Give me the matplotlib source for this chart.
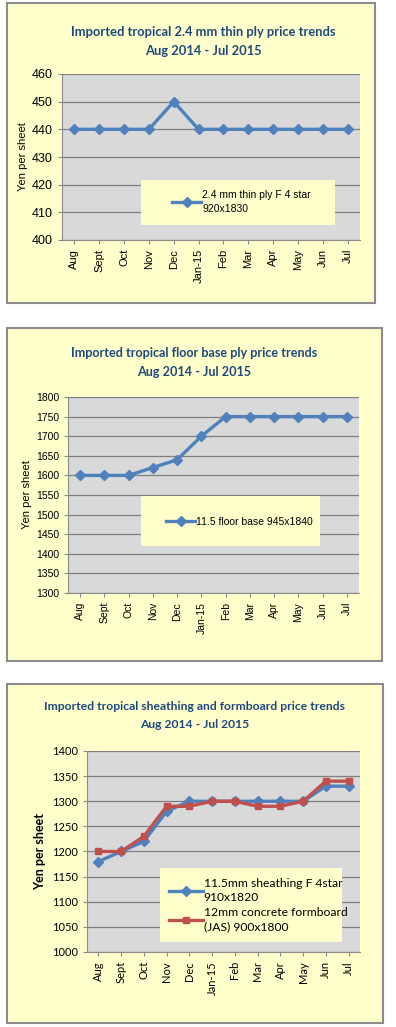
import matplotlib.pyplot as plt
from matplotlib.patches import Rectangle

months = ['Aug', 'Sept', 'Oct', 'Nov', 'Dec', 'Jan-15', 'Feb', 'Mar', 'Apr', 'May', 'Jun', 'Jul']

thin_ply = [440, 440, 440, 440, 450, 440, 440, 440, 440, 440, 440, 440]
floor_base = [1600, 1600, 1600, 1620, 1640, 1700, 1750, 1750, 1750, 1750, 1750, 1750]
sheathing = [1180, 1200, 1220, 1280, 1300, 1300, 1300, 1300, 1300, 1300, 1330, 1330]
formboard = [1200, 1200, 1230, 1290, 1290, 1300, 1300, 1290, 1290, 1300, 1340, 1340]

BG = '#FFFFCC'
PLOT_BG = '#D9D9D9'
BLUE = '#4F81BD'
RED = '#C0504D'
TITLE_C = '#1F497D'

W, H = 396, 1027
fig = plt.figure(figsize=(W / 100, H / 100), dpi=100)


def fx(x):
    return x / W


def fy(y):
    return 1 - y / H


def frame(x0, y0, x1, y1):
    fig.add_artist(Rectangle((fx(x0), fy(y1)), fx(x1 - x0), (y1 - y0) / H,
                             transform=fig.transFigure, facecolor=BG,
                             edgecolor='#8C8C8C', linewidth=1.5, zorder=0))


def make_axes(x0, y0, x1, y1):
    ax = fig.add_axes([fx(x0), fy(y1), fx(x1 - x0), (y1 - y0) / H])
    ax.set_facecolor(PLOT_BG)
    ax.set_axisbelow(True)
    ax.grid(axis='y', color='#7F7F7F', linewidth=0.9)
    for s in ['top', 'right']:
        ax.spines[s].set_visible(False)
    for s in ['left', 'bottom']:
        ax.spines[s].set_color('#8C8C8C')
    ax.set_xlim(-0.5, len(months) - 0.5)
    ax.set_xticks(range(len(months)))
    ax.tick_params(axis='both', length=3, color='#8C8C8C')
    return ax


def legend_box(ax, x0, y0, x1, y1):
    ax.add_patch(Rectangle((fx(x0), fy(y1)), fx(x1 - x0), (y1 - y0) / H,
                           transform=fig.transFigure, facecolor=BG,
                           edgecolor='none', zorder=4, clip_on=False))


def titles(x, y, first, size=9.3):
    fig.text(fx(x), fy(y), first, ha='center', va='center', fontsize=size,
             fontweight='bold', color=TITLE_C, family='Lato')
    fig.text(fx(x), fy(y + 19), 'Aug 2014 - Jul 2015', ha='center', va='center',
             fontsize=size, fontweight='bold', color=TITLE_C, family='Lato')


# ---- panel 1: thin ply
frame(7, 3, 375, 303)
titles(203, 32, 'Imported tropical 2.4 mm thin ply price trends')
ax1 = make_axes(62, 74, 360, 240)
ax1.plot(range(len(months)), thin_ply, color=BLUE, linewidth=2.4, marker='D', markersize=5.5,
         label='2.4 mm thin ply F 4 star\n920x1830', zorder=3)
ax1.set_ylim(400, 460)
ax1.set_yticks(range(400, 461, 10))
ax1.set_xticklabels(months, rotation=90, fontsize=8, family='Liberation Sans')
for t in ax1.get_yticklabels():
    t.set_fontsize(9)
    t.set_family('Liberation Sans')
ax1.set_ylabel('Yen per sheet', fontsize=8, family='Liberation Sans', labelpad=3)
legend_box(ax1, 141, 180, 335, 225)
leg = ax1.legend(loc='center left', bbox_to_anchor=(fx(168), fy(202)), bbox_transform=fig.transFigure,
                 frameon=False, prop={'family': 'Liberation Sans', 'size': 7.5}, handlelength=2.8,
                 handletextpad=0.1, borderaxespad=0)
for t in leg.get_texts():
    t.set_linespacing(1.6)
leg.set_zorder(5)

# ---- panel 2: floor base
frame(7, 328, 382, 661)
titles(194, 353, 'Imported tropical floor base ply price trends', 9.1)
ax2 = make_axes(68, 397, 359, 593)
ax2.plot(range(len(months)), floor_base, color=BLUE, linewidth=2.4, marker='D', markersize=5.5,
         label='11.5 floor base 945x1840', zorder=3)
ax2.set_ylim(1300, 1800)
ax2.set_yticks(range(1300, 1801, 50))
ax2.set_xticklabels(months, rotation=90, fontsize=7.5, family='Liberation Sans')
for t in ax2.get_yticklabels():
    t.set_fontsize(7.5)
    t.set_family('Liberation Sans')
ax2.set_ylabel('Yen per sheet', fontsize=8, family='Liberation Sans', labelpad=3)
legend_box(ax2, 141, 496, 320, 546)
leg = ax2.legend(loc='center left', bbox_to_anchor=(fx(162), fy(522)), bbox_transform=fig.transFigure,
                 frameon=False, prop={'family': 'Liberation Sans', 'size': 7.5}, handlelength=2.8,
                 handletextpad=0.1, borderaxespad=0)
leg.set_zorder(5)

# ---- panel 3: sheathing and formboard
frame(7, 684, 383, 1023)
fig.text(fx(195), fy(707), 'Imported tropical sheathing and formboard price trends',
         ha='center', va='center', fontsize=8.7, fontweight='bold', color=TITLE_C, family='Lato')
fig.text(fx(195), fy(724), 'Aug 2014 - Jul 2015',
         ha='center', va='center', fontsize=8.7, fontweight='bold', color=TITLE_C, family='Lato')
ax3 = make_axes(87, 751, 360, 952)
ax3.plot(range(len(months)), sheathing, color=BLUE, linewidth=2.4, marker='D', markersize=5.5,
         label='11.5mm sheathing F 4star\n910x1820', zorder=3)
ax3.plot(range(len(months)), formboard, color=RED, linewidth=2.4, marker='s', markersize=5,
         label='12mm concrete formboard\n(JAS) 900x1800', zorder=3)
ax3.set_ylim(1000, 1400)
ax3.set_yticks(range(1000, 1401, 50))
ax3.set_xticklabels(months, rotation=90, fontsize=8, family='Lato')
for t in ax3.get_yticklabels():
    t.set_fontsize(8)
    t.set_family('Lato')
ax3.set_ylabel('Yen per sheet', fontsize=9, fontweight='bold', family='Lato', labelpad=4)
legend_box(ax3, 160, 868, 342, 942)
leg = ax3.legend(loc='center left', bbox_to_anchor=(fx(164), fy(905)), bbox_transform=fig.transFigure,
                 frameon=False, prop={'family': 'Lato', 'size': 8.7}, handlelength=2.8,
                 handletextpad=0.1, borderaxespad=0, labelspacing=0.3)
for t in leg.get_texts():
    t.set_linespacing(1.4)
leg.set_zorder(5)

fig.savefig('out.png', dpi=100)
